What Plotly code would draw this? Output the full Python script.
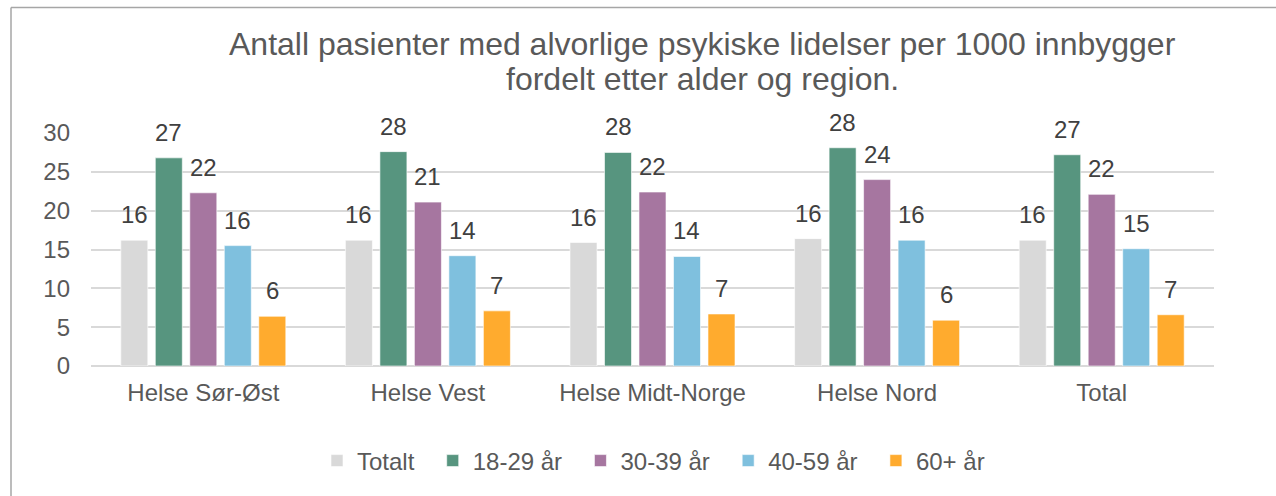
import plotly.graph_objects as go

regions = ["Helse Sør-Øst", "Helse Vest", "Helse Midt-Norge", "Helse Nord", "Total"]
series_names = ["Totalt", "18-29 år", "30-39 år", "40-59 år", "60+ år"]
totalt = [16.2, 16.2, 15.9, 16.4, 16.2]
age_18_29 = [26.8, 27.6, 27.5, 28.1, 27.2]
age_30_39 = [22.3, 21.1, 22.4, 24.0, 22.1]
age_40_59 = [15.5, 14.2, 14.1, 16.2, 15.1]
age_60_plus = [6.4, 7.1, 6.7, 5.9, 6.6]
y_ticks = [0, 5, 10, 15, 20, 25, 30]
title_lines = ["Antall pasienter med alvorlige psykiske lidelser per 1000 innbygger",
               "fordelt etter alder og region."]

values = [totalt, age_18_29, age_30_39, age_40_59, age_60_plus]
colors = ["#d9d9d9", "#57957f", "#a676a0", "#7fc0de", "#ffab2e"]

FONT = "Liberation Sans, Arial, sans-serif"
W, H = 1276, 496
L, R, T, B = 91, 62, 133, 130
pw, ph = W - L - R, H - T - B
BARGAP, GROUPGAP = 0.232, 0.217


def px_x(px):
    return (px - L) / pw


def px_y(py):
    return (H - B - py) / ph


fig = go.Figure()
for name, vals, col in zip(series_names, values, colors):
    fig.add_trace(go.Bar(
        x=regions, y=vals, name=name + "\u00a0\u00a0",
        marker=dict(color=col, line=dict(color="rgba(255,255,255,0.6)", width=1)),
    ))

# data labels above bars (positioned from the data values)
cat_w = pw / len(regions)
slot = cat_w * (1 - BARGAP) / len(series_names)
annotations = []
for i, vals in enumerate(values):
    off = (i - (len(values) - 1) / 2) * slot
    for reg, v in zip(regions, vals):
        annotations.append(dict(
            x=reg, y=v, xref="x", yref="y", text=f"{round(v):d}",
            showarrow=False, xanchor="center", yanchor="bottom",
            xshift=off, yshift=10,
            font=dict(family=FONT, size=24, color="#404040"),
        ))

for k, (line, base) in enumerate(zip(title_lines, [53, 88])):
    annotations.append(dict(
        x=px_x(702), y=px_y(base - 9), xref="paper", yref="paper",
        text=line, showarrow=False, xanchor="center", yanchor="middle",
        font=dict(family=FONT, size=32, color="#595959"),
    ))

fig.update_layout(
    width=W, height=H,
    margin=dict(l=L, r=R, t=T, b=B, autoexpand=False),
    paper_bgcolor="white", plot_bgcolor="white",
    barmode="group", bargap=BARGAP, bargroupgap=GROUPGAP,
    font=dict(family=FONT, color="#595959"),
    xaxis=dict(
        tickfont=dict(family=FONT, size=24, color="#595959"),
        showline=False, ticks="", showgrid=False, ticklabelstandoff=10,
    ),
    yaxis=dict(
        range=[0, 30], tickvals=y_ticks,
        tickfont=dict(family=FONT, size=24, color="#595959"),
        showgrid=True, gridcolor="#d9d9d9", gridwidth=1.5,
        zeroline=True, zerolinecolor="#d9d9d9", zerolinewidth=1.5,
        showline=False, ticks="", ticklabelstandoff=20,
    ),
    legend=dict(
        orientation="h", x=px_x(660), xanchor="center", y=px_y(461), yanchor="middle",
        font=dict(family=FONT, size=24, color="#595959"),
        itemwidth=30, traceorder="normal",
    ),
    annotations=annotations,
    shapes=[
        dict(type="line", xref="paper", yref="paper",
             x0=px_x(11), x1=px_x(1290), y0=px_y(7.5), y1=px_y(7.5),
             line=dict(color="#a6a6a6", width=1.5)),
        dict(type="line", xref="paper", yref="paper",
             x0=px_x(11), x1=px_x(11), y0=px_y(7.5), y1=px_y(510),
             line=dict(color="#a6a6a6", width=1.5)),
    ],
)

fig.write_html("out.html", config={"displayModeBar": False},
               post_script="document.body.style.margin='0';")
